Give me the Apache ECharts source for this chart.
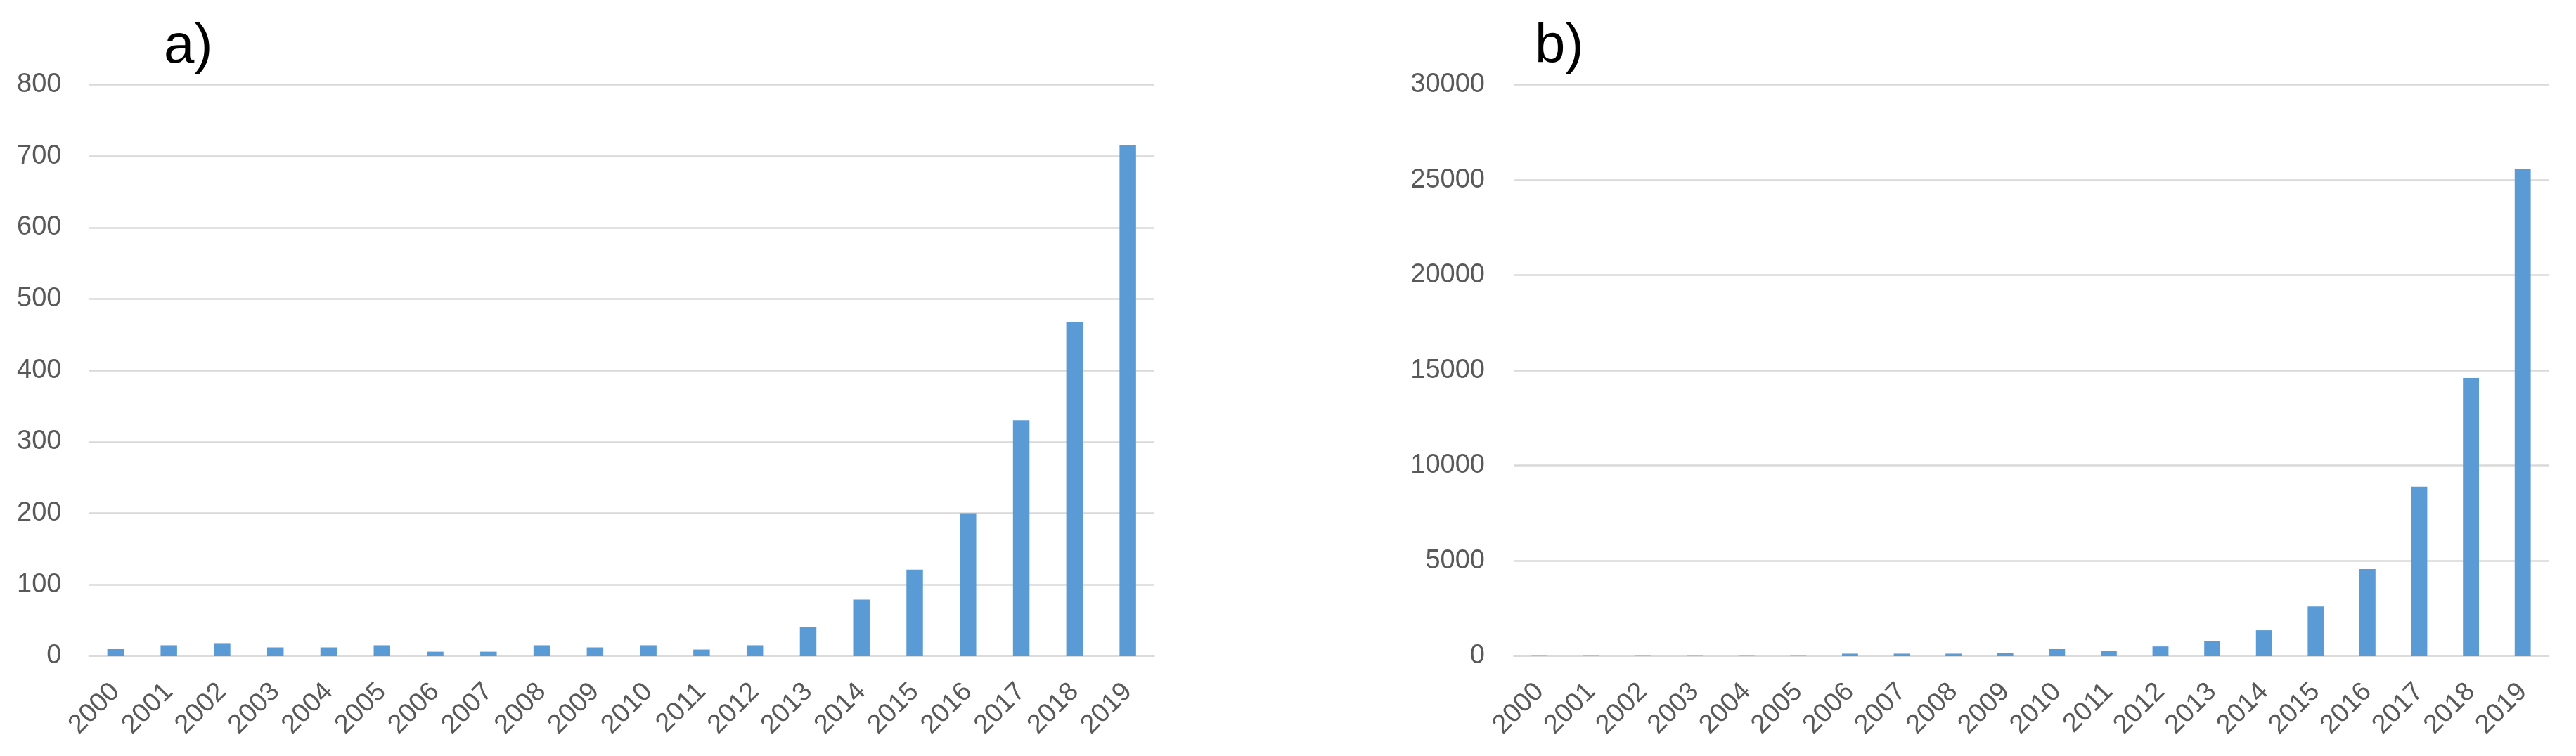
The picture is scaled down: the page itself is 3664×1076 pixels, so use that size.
<!DOCTYPE html>
<html>
<head>
<meta charset="utf-8">
<script src="https://cdn.jsdelivr.net/npm/echarts@6/dist/echarts.min.js"></script>
<style>
html,body{margin:0;padding:0;background:#fff;}
#chart{width:3664px;height:1076px;}
</style>
</head>
<body>
<div id="chart"></div>
<script>
var years = ['2000','2001','2002','2003','2004','2005','2006','2007','2008','2009',
             '2010','2011','2012','2013','2014','2015','2016','2017','2018','2019'];
var valuesA = [10, 15, 18, 12, 12, 15, 6, 6, 15, 12, 15, 9, 15, 40, 79, 121, 200, 330, 467, 715];
var valuesB = [40, 40, 40, 40, 40, 40, 120, 120, 120, 150, 390, 280, 500, 790, 1350, 2600, 4560, 8890, 14600, 25600];
var panelTitles = ['a)', 'b)'];

var FONT = '"Liberation Sans", Arial, sans-serif';
var GRID_COLOR = '#D9D9D9';
var LABEL_COLOR = '#595959';
var BAR_COLOR = '#5B9BD5';

function xAxis(idx) {
  return {
    type: 'category', gridIndex: idx, data: years,
    axisLine: { show: true, lineStyle: { color: GRID_COLOR, width: 2.5 } },
    axisTick: { show: false },
    axisLabel: { rotate: 45, margin: 45, color: LABEL_COLOR, fontSize: 38, fontFamily: FONT, interval: 0 }
  };
}
function yAxis(idx, max, interval, margin) {
  return {
    type: 'value', gridIndex: idx, min: 0, max: max, interval: interval,
    axisLine: { show: false }, axisTick: { show: false },
    splitLine: { lineStyle: { color: GRID_COLOR, width: 2.5 } },
    axisLabel: { color: LABEL_COLOR, fontSize: 38, fontFamily: FONT, margin: margin,
                 formatter: function (v) { return String(v); } }
  };
}

var chart = echarts.init(document.getElementById('chart'), null, { renderer: 'canvas' });
chart.setOption({
  animation: false,
  backgroundColor: '#ffffff',
  graphic: [
    { type: 'text', left: 233, top: 28, style: { text: panelTitles[0], font: '78px ' + FONT, fill: '#000' } },
    { type: 'text', left: 2183, top: 28, style: { text: panelTitles[1], font: '78px ' + FONT, fill: '#000' } }
  ],
  grid: [
    { left: 126.5, right: 2022, top: 120.7, bottom: 142.3, containLabel: false },
    { left: 2153, right: 39, top: 120.7, bottom: 142.3, containLabel: false }
  ],
  xAxis: [xAxis(0), xAxis(1)],
  yAxis: [yAxis(0, 800, 100, 39), yAxis(1, 30000, 5000, 41)],
  series: [
    { type: 'bar', xAxisIndex: 0, yAxisIndex: 0, data: valuesA, barWidth: '31%', itemStyle: { color: BAR_COLOR } },
    { type: 'bar', xAxisIndex: 1, yAxisIndex: 1, data: valuesB, barWidth: '31%', itemStyle: { color: BAR_COLOR } }
  ]
});
</script>
</body>
</html>
